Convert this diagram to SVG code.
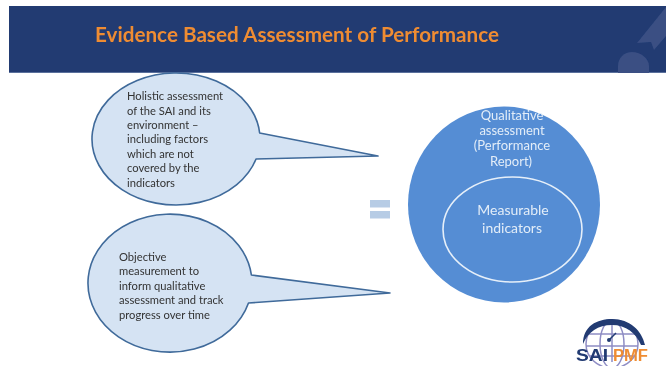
<svg xmlns="http://www.w3.org/2000/svg" width="666" height="366" viewBox="0 0 666 366">
<style>
.lbl{font-family:Lato,"Liberation Sans",sans-serif;font-size:11.200px;fill:#333}
.w{font-family:Lato,"Liberation Sans",sans-serif;font-size:13px;fill:#e3edf8;text-anchor:middle}
.w2{font-size:14px}
.callout{fill:#d5e3f3;stroke:#3f6a9a;stroke-width:1.600;stroke-linejoin:round}
.g{fill:none;stroke:#8f8dc4;stroke-width:1.500}
</style>
<defs><filter id="soft" x="0" y="0" width="100%" height="100%"><feGaussianBlur stdDeviation="0.400"/></filter></defs>
<rect width="666" height="366" fill="#fff"/>
<g filter="url(#soft)">
<g id="banner">
<rect x="9" y="6" width="657" height="67" fill="#203a72"/>
<rect x="9" y="72" width="657" height="1" fill="#5a709c"/>
<path d="M637 43 L666 7 V36 L654 50 L651 42 Z" fill="#3a4f83"/>
<path d="M618 73 V66 C618 58 624 52 632 52 C640 52 649 58 649 66 V73 Z" fill="#3a4f83"/>
<text x="95" y="42" font-family="Lato,'Liberation Sans',sans-serif" font-size="20" font-weight="700" fill="#ef8c33" textLength="404" lengthAdjust="spacingAndGlyphs">Evidence Based Assessment of Performance</text>
</g>
<g id="connectors"></g>
<g id="callout-holistic">
<path class="callout" d="M259.650 133 L378 156 L256.050 159 A84 66 0 1 1 259.650 133 Z"/>
<text class="lbl"><tspan x="127" y="100">Holistic assessment</tspan><tspan x="127" y="114.500">of the SAI and its</tspan><tspan x="127" y="129">environment –</tspan><tspan x="127" y="143">including factors</tspan><tspan x="127" y="157.500">which are not</tspan><tspan x="127" y="172">covered by the</tspan><tspan x="127" y="187">indicators</tspan></text>
</g>
<g id="callout-objective">
<path class="callout" d="M251.400 275 L390 293 L248.500 303 A82 69 0 1 1 251.400 275 Z"/>
<text class="lbl"><tspan x="119" y="261">Objective</tspan><tspan x="119" y="275">measurement to</tspan><tspan x="119" y="290">inform qualitative</tspan><tspan x="119" y="304">assessment and track</tspan><tspan x="119" y="319">progress over time</tspan></text>
</g>
<g id="equals">
<rect x="370" y="200" width="20" height="7.500" fill="#b7cce5"/>
<rect x="370" y="211" width="20" height="7.500" fill="#b7cce5"/>
</g>
<g id="qualitative">
<ellipse cx="504" cy="204.500" rx="96" ry="98" fill="#548dd4"/>
<text class="w"><tspan x="512" y="120">Qualitative</tspan><tspan x="512" y="135">assessment</tspan><tspan x="512" y="150">(Performance</tspan><tspan x="511" y="166">Report)</tspan></text>
</g>
<g id="measurable">
<ellipse cx="512.500" cy="229.500" rx="69.500" ry="52.500" fill="#548dd4" stroke="#e6eff9" stroke-width="1.600"/>
<text class="w w2"><tspan x="513" y="215">Measurable</tspan><tspan x="512" y="233">indicators</tspan></text>
</g>
<g id="logo">
<ellipse cx="612" cy="344" rx="26" ry="24" class="g"/>
<ellipse cx="612" cy="344" rx="12" ry="24" class="g"/>
<path class="g" d="M612 320 V362 M588 334 H636 M586 346 H638 M590 356 H634"/>
<path d="M583 344 C583 326 597 319 612 319 C630 319 642 331 645 345 L641 345 C636 333 626 325 612 325 C598 325 588 332 583 344 Z" fill="#203a72"/>
<path d="M609 340 L616 333" stroke="#203a72" stroke-width="1.500"/><circle cx="609" cy="340" r="2" fill="#203a72"/>
<text x="576" y="361" font-family="'Liberation Sans',sans-serif" font-size="16" font-weight="700" fill="#203a72" textLength="32" lengthAdjust="spacingAndGlyphs">SAI</text>
<text x="613" y="361" font-family="'Liberation Sans',sans-serif" font-size="16" font-weight="700" fill="#ef8c33" textLength="35" lengthAdjust="spacingAndGlyphs">PMF</text>
</g>
</g>
</svg>
